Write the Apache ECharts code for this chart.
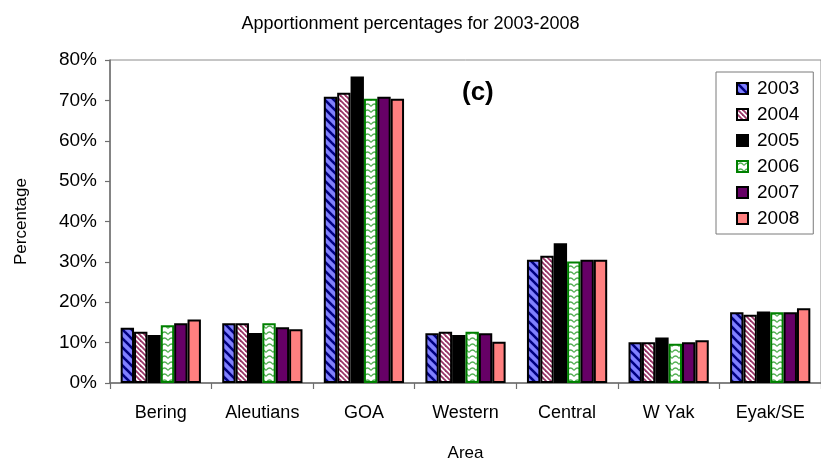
<!DOCTYPE html>
<html>
<head>
<meta charset="utf-8">
<script src="https://cdn.jsdelivr.net/npm/echarts@6/dist/echarts.min.js"></script>
<style>
  html, body { margin: 0; padding: 0; background: #fff; }
  #chart { width: 821px; height: 469px; }
</style>
</head>
<body>
<div id="chart"></div>
<script>
// Apportionment of each area, percent, one list per year
const areas = ['Bering', 'Aleutians', 'GOA', 'Western', 'Central', 'W Yak', 'Eyak/SE'];
const years = ['2003', '2004', '2005', '2006', '2007', '2008'];
const y2003 = [13.7, 14.8, 70.9, 12.3, 30.5, 10.1, 17.5];
const y2004 = [12.7, 14.8, 71.9, 12.7, 31.5, 10.1, 16.9];
const y2005 = [11.9, 12.4, 75.9, 11.9, 34.6, 11.3, 17.7];
const y2006 = [14.3, 14.8, 70.4, 12.7, 30.1, 9.7, 17.5];
const y2007 = [14.8, 13.8, 70.9, 12.3, 30.5, 10.1, 17.5];
const y2008 = [15.7, 13.3, 70.4, 10.2, 30.5, 10.6, 18.5];
const yearValues = [y2003, y2004, y2005, y2006, y2007, y2008];

const FONT = 'Liberation Sans, Arial, sans-serif';

// Small repeating tiles used as bar fills
function tile(w, h, draw) {
  const c = document.createElement('canvas');
  c.width = w; c.height = h;
  draw(c.getContext('2d'), w, h);
  return c;
}
function diagonal(ctx, w, h, bg, fg, lw) {
  ctx.fillStyle = bg;
  ctx.fillRect(0, 0, w, h);
  ctx.strokeStyle = fg;
  ctx.lineWidth = lw;
  ctx.lineCap = 'square';
  for (const off of [-w, 0, w]) {
    ctx.beginPath();
    ctx.moveTo(off, 0);
    ctx.lineTo(off + w, h);
    ctx.stroke();
  }
}
const blueStripes = tile(9, 9, (ctx, w, h) => diagonal(ctx, w, h, '#8080ff', '#000080', 2.6));
const plumStripes = tile(5, 5, (ctx, w, h) => diagonal(ctx, w, h, '#ffffff', '#993366', 1.8));
const greenWaves = tile(7, 6, (ctx, w, h) => {
  ctx.fillStyle = '#ffffff';
  ctx.fillRect(0, 0, w, h);
  ctx.strokeStyle = '#55b055';
  ctx.lineWidth = 1.3;
  ctx.beginPath();
  ctx.moveTo(0, 4.5);
  ctx.quadraticCurveTo(3.5, -0.5, 7, 4.5);
  ctx.stroke();
});

const styles = [
  { color: { image: blueStripes, repeat: 'repeat' }, borderColor: '#000000' },
  { color: { image: plumStripes, repeat: 'repeat' }, borderColor: '#000000' },
  { color: '#000000', borderColor: '#000000' },
  { color: { image: greenWaves, repeat: 'repeat' }, borderColor: '#008000' },
  { color: '#660066', borderColor: '#000000' },
  { color: '#ff8080', borderColor: '#000000' }
];

const series = years.map((yr, i) => ({
  name: yr,
  type: 'bar',
  data: yearValues[i],
  barGap: '0%',
  barCategoryGap: '21%',
  itemStyle: Object.assign({ borderWidth: 2 }, styles[i]),
  emphasis: { disabled: true }
}));

const chart = echarts.init(document.getElementById('chart'), null, { renderer: 'canvas' });
chart.setOption({
  animation: false,
  backgroundColor: '#ffffff',
  textStyle: { fontFamily: FONT },
  title: {
    text: 'Apportionment percentages for 2003-2008',
    left: 'center',
    top: 10,
    textStyle: { fontFamily: FONT, fontSize: 18, fontWeight: 'normal', color: '#000' }
  },
  grid: {
    left: 110, top: 60, width: 725, height: 323,
    show: true, borderColor: '#8c8c8c', borderWidth: 1, backgroundColor: 'transparent'
  },
  legend: {
    orient: 'vertical',
    left: 716, top: 72,
    padding: [7, 14, 6, 20],
    itemGap: 7,
    itemWidth: 11, itemHeight: 11,
    borderColor: '#7a7a7a', borderWidth: 1,
    backgroundColor: '#fff',
    textStyle: { fontFamily: FONT, fontSize: 19, color: '#000', padding: [0, 0, 0, 4] },
    data: years.map(y => ({ name: y, icon: 'rect' }))
  },
  xAxis: {
    type: 'category',
    data: areas,
    name: 'Area',
    nameLocation: 'middle',
    nameGap: 62,
    nameTextStyle: { fontFamily: FONT, fontSize: 17, color: '#000' },
    axisLine: { lineStyle: { color: '#6e6e6e', width: 1.5 } },
    axisTick: { show: true, length: 6, lineStyle: { color: '#6e6e6e', width: 1.2 } },
    axisLabel: { fontFamily: FONT, fontSize: 18, color: '#000', margin: 21, interval: 0 },
    splitLine: { show: false }
  },
  yAxis: {
    type: 'value',
    min: 0, max: 80, interval: 10,
    name: 'Percentage',
    nameLocation: 'middle',
    nameGap: 80,
    nameRotate: 90,
    nameTextStyle: { fontFamily: FONT, fontSize: 17, color: '#000' },
    axisLine: { show: true, lineStyle: { color: '#6e6e6e', width: 1.5 } },
    axisTick: { show: true, length: 5, lineStyle: { color: '#6e6e6e', width: 1.2 } },
    axisLabel: { fontFamily: FONT, fontSize: 19, color: '#000', margin: 13, formatter: '{value}%' },
    splitLine: { show: false }
  },
  graphic: [{
    type: 'text',
    left: 462, top: 80,
    style: { text: '(c)', font: 'bold 26px ' + FONT, fill: '#000' }
  }],
  series: series
});
</script>
</body>
</html>
